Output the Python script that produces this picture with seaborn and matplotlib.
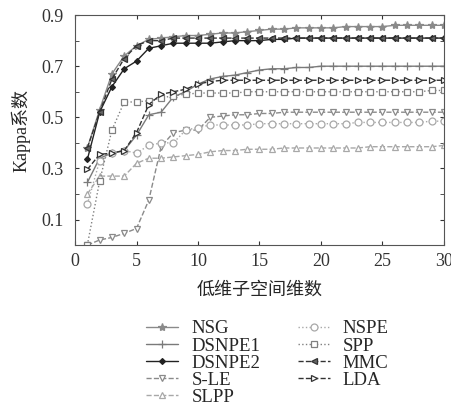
import matplotlib
matplotlib.use("Agg")
import matplotlib.pyplot as plt
import seaborn as sns
import pandas as pd

dims = list(range(1, 31))

nsg = [0.38, 0.53, 0.67, 0.74, 0.78, 0.805, 0.81, 0.815, 0.82, 0.82,
       0.825, 0.83, 0.83, 0.835, 0.84, 0.845, 0.845, 0.85, 0.85, 0.85,
       0.85, 0.855, 0.855, 0.855, 0.855, 0.86, 0.86, 0.86, 0.86, 0.86]
dsnpe1 = [0.245, 0.34, 0.36, 0.37, 0.43, 0.51, 0.52, 0.58, 0.60, 0.63,
          0.65, 0.66, 0.665, 0.675, 0.685, 0.69, 0.69, 0.695, 0.695, 0.70,
          0.70, 0.70, 0.70, 0.70, 0.70, 0.70, 0.70, 0.70, 0.70, 0.70]
dsnpe2 = [0.335, 0.52, 0.62, 0.69, 0.72, 0.77, 0.78, 0.79, 0.79, 0.79,
          0.79, 0.795, 0.80, 0.80, 0.80, 0.805, 0.805, 0.81, 0.81, 0.81,
          0.81, 0.81, 0.81, 0.81, 0.81, 0.81, 0.81, 0.81, 0.81, 0.81]
sle = [0.0, 0.02, 0.03, 0.046, 0.065, 0.176, 0.385, 0.44, 0.45, 0.45,
       0.50, 0.505, 0.51, 0.51, 0.515, 0.515, 0.52, 0.52, 0.52, 0.52,
       0.52, 0.52, 0.52, 0.52, 0.52, 0.52, 0.52, 0.52, 0.52, 0.52]
slpp = [0.20, 0.27, 0.27, 0.27, 0.32, 0.34, 0.34, 0.345, 0.35, 0.355,
        0.365, 0.37, 0.37, 0.375, 0.375, 0.375, 0.38, 0.38, 0.38, 0.38,
        0.38, 0.38, 0.38, 0.385, 0.385, 0.385, 0.385, 0.385, 0.385, 0.39]
nspe = [0.16, 0.33, 0.36, 0.37, 0.36, 0.39, 0.40, 0.40, 0.45, 0.46,
        0.47, 0.47, 0.47, 0.47, 0.475, 0.475, 0.475, 0.475, 0.475, 0.475,
        0.475, 0.475, 0.48, 0.48, 0.48, 0.48, 0.48, 0.48, 0.485, 0.485]
spp = [0.0, 0.25, 0.45, 0.56, 0.56, 0.565, 0.575, 0.585, 0.59, 0.595,
       0.595, 0.595, 0.595, 0.60, 0.60, 0.60, 0.60, 0.60, 0.60, 0.60,
       0.60, 0.60, 0.60, 0.60, 0.60, 0.60, 0.60, 0.60, 0.605, 0.605]
mmc = [0.38, 0.52, 0.65, 0.73, 0.78, 0.80, 0.80, 0.81, 0.81, 0.81,
       0.81, 0.81, 0.81, 0.81, 0.81, 0.81, 0.81, 0.81, 0.81, 0.81,
       0.81, 0.81, 0.81, 0.81, 0.81, 0.81, 0.81, 0.81, 0.81, 0.81]
lda = [0.296, 0.355, 0.36, 0.37, 0.44, 0.55, 0.59, 0.60, 0.61, 0.63,
       0.64, 0.645, 0.645, 0.645, 0.645, 0.645, 0.645, 0.645, 0.645, 0.645,
       0.645, 0.645, 0.645, 0.645, 0.645, 0.645, 0.645, 0.645, 0.645, 0.645]

methods = ["NSG", "DSNPE1", "DSNPE2", "S-LE", "SLPP", "NSPE", "SPP", "MMC", "LDA"]
values = [nsg, dsnpe1, dsnpe2, sle, slpp, nspe, spp, mmc, lda]

# (color, linestyle, marker, marker face, marker size)
styles = {
    "NSG":    ("#8a8a8a", "-",  "*", "#8a8a8a", 6),
    "DSNPE1": ("#7a7a7a", "-",  "+", "#7a7a7a", 6),
    "DSNPE2": ("#222222", "-",  "D", "#222222", 3),
    "S-LE":   ("#8a8a8a", "--", "v", "white", 5),
    "SLPP":   ("#a8a8a8", "--", "^", "white", 5),
    "NSPE":   ("#a8a8a8", ":",  "o", "white", 5),
    "SPP":    ("#808080", ":",  "s", "white", 5),
    "MMC":    ("#333333", "--", "<", "#666666", 5),
    "LDA":    ("#333333", "--", ">", "white", 5),
}

df = pd.DataFrame({"dim": dims * len(methods),
                   "kappa": [v for vals in values for v in vals],
                   "method": [m for m in methods for _ in dims]})

sns.set_style("ticks")
plt.rcParams["font.family"] = ["Liberation Serif", "Noto Sans CJK SC"]

fig = plt.figure(figsize=(4.52, 4.19), dpi=100)
ax = fig.add_axes([0.166, 0.415, 0.816, 0.549])

for m in methods:
    color, ls, mk, face, ms = styles[m]
    sub = df[df["method"] == m]
    sns.lineplot(data=sub, x="dim", y="kappa", ax=ax, label=m, color=color,
                 linestyle=ls, marker=mk, markersize=ms, markerfacecolor=face,
                 markeredgecolor=color, markeredgewidth=0.9, linewidth=1.0)

ax.set_xlim(0, 30)
ax.set_ylim(0, 0.9)
ax.set_xticks([0, 5, 10, 15, 20, 25, 30])
ax.set_yticks([0.1, 0.3, 0.5, 0.7, 0.9])
ax.set_yticks([0.2, 0.4, 0.6, 0.8], minor=True)
ax.tick_params(direction="in", top=True, right=True, which="both",
               length=3, labelsize=13, colors="#333333")
ax.tick_params(axis="x", pad=6)
ax.tick_params(axis="y", pad=8)
for s in ax.spines.values():
    s.set_color("#555555")
    s.set_linewidth(0.8)
ax.set_xlabel("低维子空间维数", fontsize=13, labelpad=8)
ax.set_ylabel("Kappa系数", fontsize=13, labelpad=8)

handles, labels = ax.get_legend_handles_labels()
ax.legend_.remove()
fig.legend(handles, labels, ncol=2, frameon=False, loc="upper left",
           bbox_to_anchor=(0.303, 0.258), fontsize=13.5, handlelength=1.7,
           labelspacing=0.0, columnspacing=2.0, handletextpad=0.7,
           borderpad=0)

plt.savefig("out.png", dpi=100)
plt.close()
